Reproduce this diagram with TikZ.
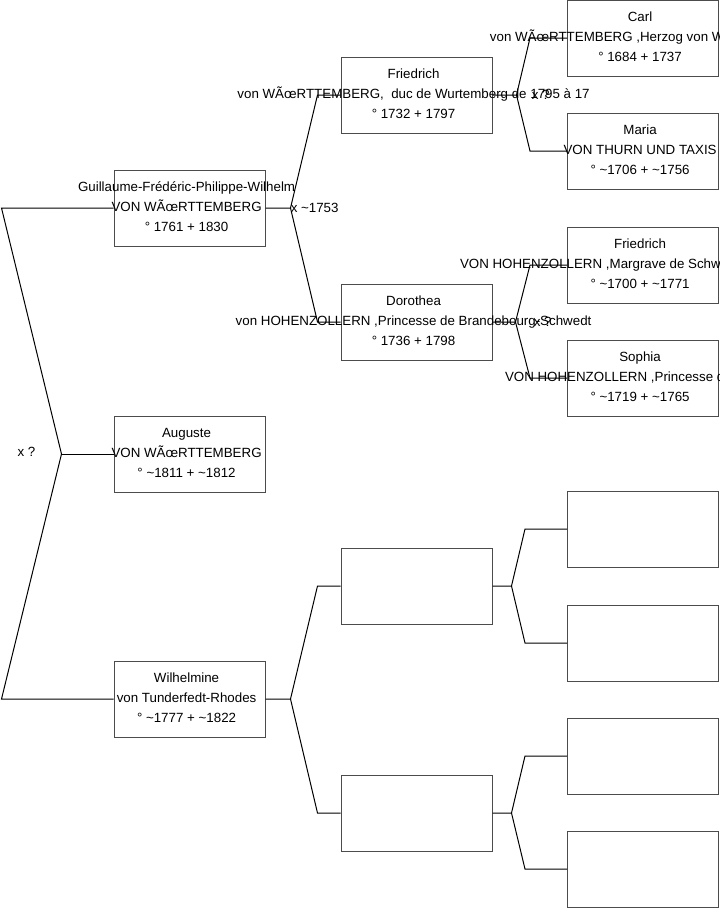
\documentclass[tikz,border=0pt]{standalone}
\usepackage{fontspec}
\setmainfont{Liberation Sans}
\usepackage{tikz}
\usetikzlibrary{positioning, calc}
\newcommand{\abt}{\textasciitilde}
\newcommand{\cutline}[2]{\makebox[0pt][l]{\hspace*{#1}#2}}
\tikzset{
  pbox/.style={rectangle, draw=black!70, line width=0.75pt, inner sep=0pt,
               minimum width=113.25pt, minimum height=57pt},
  ptxt/.style={align=center, inner sep=0pt, xshift=-2.2pt, yshift=1.1pt,
               font=\fontsize{10pt}{15pt}\selectfont},
  conn/.style={draw=black, line width=0.75pt},
  lbl/.style={inner sep=0pt, font=\fontsize{10pt}{12pt}\selectfont},
}
\begin{document}
\begin{tikzpicture}[x=0.75pt, y=-0.75pt]
  \useasboundingbox (0,0) rectangle (719,908);
  \node[pbox] (guil)  at (189.5,208) {};
  \node[pbox] (aug)   at (189.5,454) {};
  \node[pbox] (wil)   at (189.5,699) {};
  \node[pbox] (fri)   at (416.5,95)  {};
  \node[pbox] (doro)  at (416.5,322) {};
  \node[pbox] (e21)   at (416.5,586) {};
  \node[pbox] (e22)   at (416.5,813) {};
  \node[pbox] (carl)  at (643,38)  {};
  \node[pbox] (maria) at (643,151) {};
  \node[pbox] (frih)  at (643,265) {};
  \node[pbox] (soph)  at (643,378) {};
  \node[pbox] (e31)   at (643,529) {};
  \node[pbox] (e32)   at (643,643) {};
  \node[pbox] (e33)   at (643,756) {};
  \node[pbox] (e34)   at (643,869) {};

  \node[ptxt] (guil-t)  at (guil)  {Guillaume-Frédéric-Philippe-Wilhelm\\VON WÃœRTTEMBERG\\° 1761 + 1830};
  \node[ptxt] (aug-t)   at (aug)   {Auguste\\VON WÃœRTTEMBERG\\° \abt1811 + \abt1812};
  \node[ptxt] (wil-t)   at (wil)   {Wilhelmine\\von Tunderfedt-Rhodes\\° \abt1777 + \abt1822};
  \node[ptxt] (fri-t)   at (fri)   {Friedrich\\von WÃœRTTEMBERG, \ duc de Wurtemberg de 1795 à 17\\° 1732 + 1797};
  \node[ptxt] (doro-t)  at (doro)  {Dorothea\\von HOHENZOLLERN ,Princesse de Brandebourg-Schwedt\\° 1736 + 1798};
  \node[ptxt] (carl-t)  at (carl)  {Carl\\\cutline{-112.6pt}{von WÃœRTTEMBERG ,Herzog von W}\\° 1684 + 1737};
  \node[ptxt] (maria-t) at (maria) {Maria\\VON THURN UND TAXIS\\° \abt1706 + \abt1756};
  \node[ptxt] (frih-t)  at (frih)  {Friedrich\\\cutline{-135.05pt}{VON HOHENZOLLERN ,Margrave de Schw}\\° \abt1700 + \abt1771};
  \node[ptxt] (soph-t)  at (soph)  {Sophia\\\cutline{-101.3pt}{VON HOHENZOLLERN ,Princesse d}\\° \abt1719 + \abt1765};

  \coordinate (m0) at ($(aug.west)+(-52,0)$);
  \draw[conn] (guil.west) -- ++(-112,0) -- (m0) -- ($(wil.west)+(-112,0)$) -- (wil.west);
  \draw[conn] (m0) -- (aug.west);
  \foreach \c/\f/\m/\v/\a in {guil/fri/doro/25/23, wil/e21/e22/25/23,
      fri/carl/maria/24/37, doro/frih/soph/23/37, e21/e31/e32/19/42, e22/e33/e34/19/42}
    \draw[conn] (\c.east) -- ++(\v,0) coordinate (\c-m)
                -- ($(\f.west)+(-\a,0)$) -- (\f.west)
                (\c-m) -- ($(\m.west)+(-\a,0)$) -- (\m.west);

  \node[lbl] (l0) at (26.5,452) {x ?};
  \node[lbl, anchor=west] (l1) at (guil-m) {x \abt1753};
  \node[lbl, anchor=west, xshift=11.25pt] (l2) at (fri-m) {x ?};
  \node[lbl, anchor=west, xshift=13.5pt] (l3) at (doro-m) {x ?};
\end{tikzpicture}
\end{document}
